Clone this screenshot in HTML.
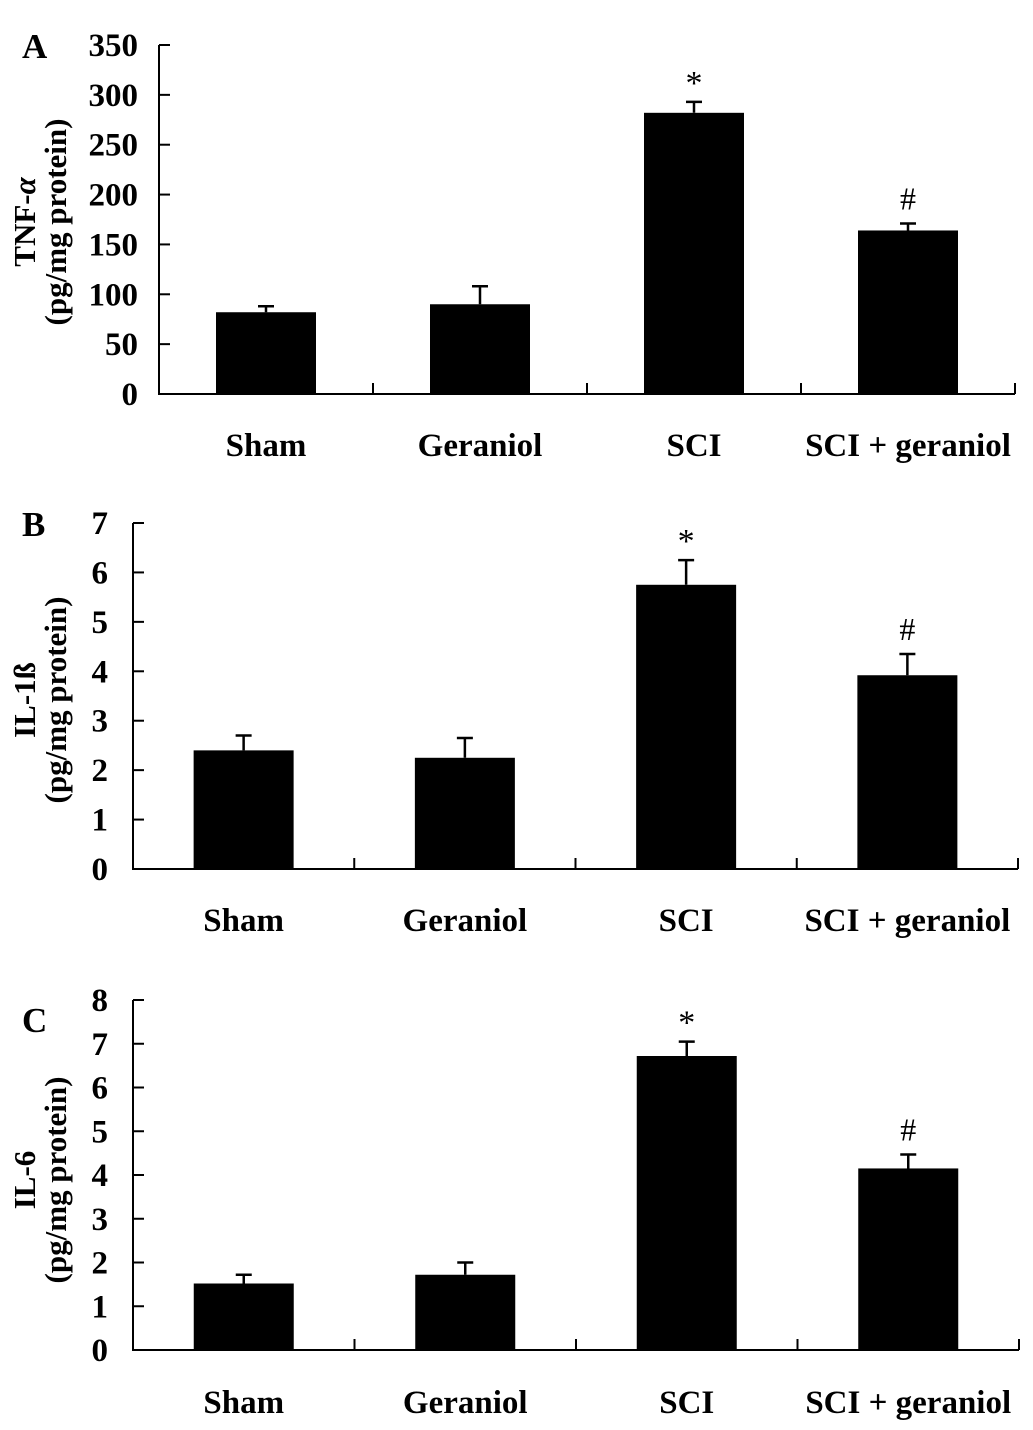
<!DOCTYPE html>
<html><head><meta charset="utf-8"><style>
html,body{margin:0;padding:0;background:#fff;}
svg{display:block;font-family:"Liberation Serif",serif;}
</style></head><body>
<svg id="chart" width="1033" height="1430" viewBox="0 0 1033 1430" xmlns="http://www.w3.org/2000/svg"></svg>
<script>
const categories = ["Sham", "Geraniol", "SCI", "SCI + geraniol"];
const tnfValues = [82, 90, 282, 164];
const tnfErrors = [6, 18, 11, 7];
const il1bValues = [2.4, 2.25, 5.75, 3.92];
const il1bErrors = [0.3, 0.4, 0.5, 0.43];
const il6Values = [1.52, 1.72, 6.72, 4.15];
const il6Errors = [0.2, 0.28, 0.33, 0.32];
const tnfTicks = [0, 50, 100, 150, 200, 250, 300, 350];
const il1bTicks = [0, 1, 2, 3, 4, 5, 6, 7];
const il6Ticks = [0, 1, 2, 3, 4, 5, 6, 7, 8];
const marks = ["", "", "*", "#"];

const NS = "http://www.w3.org/2000/svg";
const svg = document.getElementById("chart");
function mk(tag, attrs, parent, text) {
  const e = document.createElementNS(NS, tag);
  for (const k in attrs) e.setAttribute(k, attrs[k]);
  if (text !== undefined) e.textContent = text;
  parent.appendChild(e);
  return e;
}

function panel(cfg) {
  const g = mk("g", {}, svg);
  
  
  const {x0, x1, y0, yTop, max, ticks, values, errors} = cfg;
  const yScale = v => y0 - (v / max) * (y0 - yTop);
  const bw = (x1 - x0) / categories.length;
  const xCenter = i => x0 + bw * (i + 0.5);

  const letter = mk("text", {x: cfg.letterX, y: cfg.letterY, "font-size": 35, "font-weight": "bold"}, g, cfg.letter);
  
  

  const yAxis = mk("line", {x1: x0, y1: yTop, x2: x0, y2: y0, stroke: "#000", "stroke-width": 2}, g);
  
  
  const xAxis = mk("line", {x1: x0 - 1, y1: y0, x2: x1, y2: y0, stroke: "#000", "stroke-width": 2}, g);
  
  

  ticks.forEach(t => {
    const y = yScale(t);
    const tk = mk("line", {x1: x0, y1: y, x2: x0 + 11, y2: y, stroke: "#000", "stroke-width": 2}, g);
    
    
    const tl = mk("text", {x: cfg.tickRight, y: y + 11, "font-size": 33, "font-weight": "bold", "text-anchor": "end"}, g, String(t));
    
    
  });
  for (let i = 1; i <= categories.length; i++) {
    const x = x0 + bw * i;
    const tk = mk("line", {x1: x, y1: y0, x2: x, y2: y0 - 11, stroke: "#000", "stroke-width": 2}, g);
    
    
  }

  categories.forEach((c, i) => {
    const cx = xCenter(i);
    const top = yScale(values[i]);
    const bar = mk("rect", {x: cx - 50, y: top, width: 100, height: y0 - top, fill: "#000"}, g);
    
    
    const et = yScale(values[i] + errors[i]);
    const eb = mk("path", {d: `M${cx} ${top} V${et} M${cx - 8} ${et} H${cx + 8}`, stroke: "#000", "stroke-width": 2.5, fill: "none"}, g);
    
    
    if (marks[i]) {
      const m = mk("text", {x: cx, y: et - (marks[i] === "*" ? 8 : 14), "font-size": marks[i] === "*" ? 34 : 32, "text-anchor": "middle"}, g, marks[i]);
      
      
    }
    const lbl = mk("text", {x: cx, y: cfg.labelY, "font-size": 33, "font-weight": "bold", "text-anchor": "middle"}, g, c);
    
    
  });

  const tg = mk("g", {transform: `translate(40,${cfg.titleY}) rotate(-90)`}, g);
  
  
  const t1 = mk("text", {x: 0, y: -5, "font-size": 31, "font-weight": "bold", "text-anchor": "middle"}, tg);
  t1.innerHTML = cfg.title1;
  mk("text", {x: 0, y: 26, "font-size": 31, "font-weight": "bold", "text-anchor": "middle"}, tg, "(pg/mg protein)");
}

panel({name: "panel-a-tnf", letter: "A", letterX: 22, letterY: 58, x0: 159, x1: 1015, y0: 394, yTop: 45, max: 350,
  ticks: tnfTicks, values: tnfValues, errors: tnfErrors, tickRight: 138, labelY: 456, titleY: 222,
  title1: 'TNF-<tspan font-style="italic">α</tspan>'});
panel({name: "panel-b-il1b", letter: "B", letterX: 22, letterY: 536, x0: 133, x1: 1018, y0: 869, yTop: 523, max: 7,
  ticks: il1bTicks, values: il1bValues, errors: il1bErrors, tickRight: 108, labelY: 931, titleY: 700,
  title1: 'IL-1ß'});
panel({name: "panel-c-il6", letter: "C", letterX: 22, letterY: 1032, x0: 133, x1: 1019, y0: 1350, yTop: 1000, max: 8,
  ticks: il6Ticks, values: il6Values, errors: il6Errors, tickRight: 108, labelY: 1413, titleY: 1180,
  title1: 'IL-6'});
</script>
</body></html>
